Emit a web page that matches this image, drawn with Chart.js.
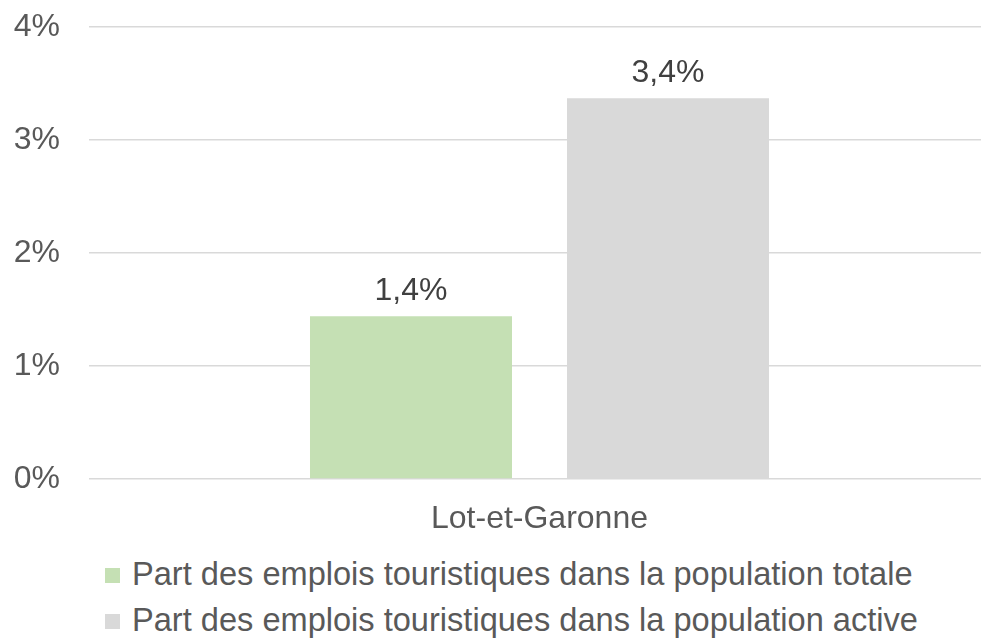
<!DOCTYPE html>
<html lang="fr">
<head>
<meta charset="UTF-8">
<title>Emplois touristiques - Lot-et-Garonne</title>
<script src="https://cdn.jsdelivr.net/npm/chart.js"></script>
<style>
    body {
        margin: 0;
        padding: 0;
        background: #fff;
        overflow: hidden;
        font-family: "Liberation Sans", Arial, sans-serif;
    }
    .wrap {
        position: relative;
        width: 981px;
        height: 641px;
        overflow: hidden;
    }
    #chart {
        position: absolute;
        left: 0;
        top: 0;
    }
    .legend {
        position: absolute;
        left: 105px;
        top: 551px;
        font-size: 32.6px;
        color: #595959;
    }
    .legend div {
        height: 46px;
        line-height: 46px;
        white-space: nowrap;
    }
    .legend span {
        display: inline-block;
        width: 15px;
        height: 15px;
        margin-right: 12px;
        vertical-align: 2px;
    }
</style>
</head>
<body>
<div class="wrap">
    <canvas id="chart" width="990" height="541"></canvas>
    <div class="legend" id="legend"></div>
</div>

<script>
    // data
    const categories = ['Lot-et-Garonne'];
    const seriesNames = [
        'Part des emplois touristiques dans la population totale',
        'Part des emplois touristiques dans la population active'
    ];
    const totalShare = [1.44];
    const activeShare = [3.37];
    const yTicks = [0, 1, 2, 3, 4];
    const colours = ['#C5E0B4', '#D9D9D9'];

    const font = '"Liberation Sans", Arial, sans-serif';

    function fmt(v) {
        return v.toFixed(1).replace('.', ',') + '%';
    }

    // value labels above the bars
    const valueLabels = {
        id: 'valueLabels',
        afterDatasetsDraw(chart) {
            const ctx = chart.ctx;
            ctx.save();
            ctx.font = '32px ' + font;
            ctx.fillStyle = '#404040';
            ctx.textAlign = 'center';
            ctx.textBaseline = 'alphabetic';
            chart.data.datasets.forEach((ds, i) => {
                chart.getDatasetMeta(i).data.forEach((bar, j) => {
                    ctx.fillText(fmt(ds.data[j]), bar.x, bar.y - 16);
                });
            });
            ctx.restore();
        }
    };

    const chart = new Chart(document.getElementById('chart'), {
        type: 'bar',
        data: {
            labels: categories,
            datasets: [
                { label: seriesNames[0], data: totalShare, backgroundColor: colours[0] },
                { label: seriesNames[1], data: activeShare, backgroundColor: colours[1] }
            ]
        },
        options: {
            responsive: false,
            animation: false,
            layout: { padding: { left: 0, top: 27, right: 0, bottom: 0 } },
            datasets: {
                bar: { categoryPercentage: 0.5705, barPercentage: 0.786 }
            },
            plugins: {
                legend: { display: false },
                tooltip: { enabled: false }
            },
            scales: {
                x: {
                    grid: { display: false },
                    border: { display: false },
                    ticks: { color: '#595959', font: { family: font, size: 32 }, padding: 13 },
                    afterFit: (axis) => { axis.height = 62; }
                },
                y: {
                    min: 0,
                    max: 4,
                    afterBuildTicks: (axis) => { axis.ticks = yTicks.map(v => ({ value: v })); },
                    grid: { color: '#D9D9D9', lineWidth: 1.5, drawTicks: false },
                    border: { display: false },
                    ticks: {
                        color: '#595959',
                        font: { family: font, size: 32 },
                        padding: 29,
                        callback: (v) => v + '%'
                    },
                    afterFit: (axis) => {
                        axis.width = 89;
                        axis.paddingTop = 0;
                        axis.paddingBottom = 0;
                    }
                }
            }
        },
        plugins: [valueLabels]
    });

    // legend, one row per series, left aligned like the original
    const legend = document.getElementById('legend');
    seriesNames.forEach((name, i) => {
        const row = document.createElement('div');
        const box = document.createElement('span');
        box.style.background = colours[i];
        row.appendChild(box);
        row.appendChild(document.createTextNode(name));
        legend.appendChild(row);
    });
</script>
</body>
</html>
